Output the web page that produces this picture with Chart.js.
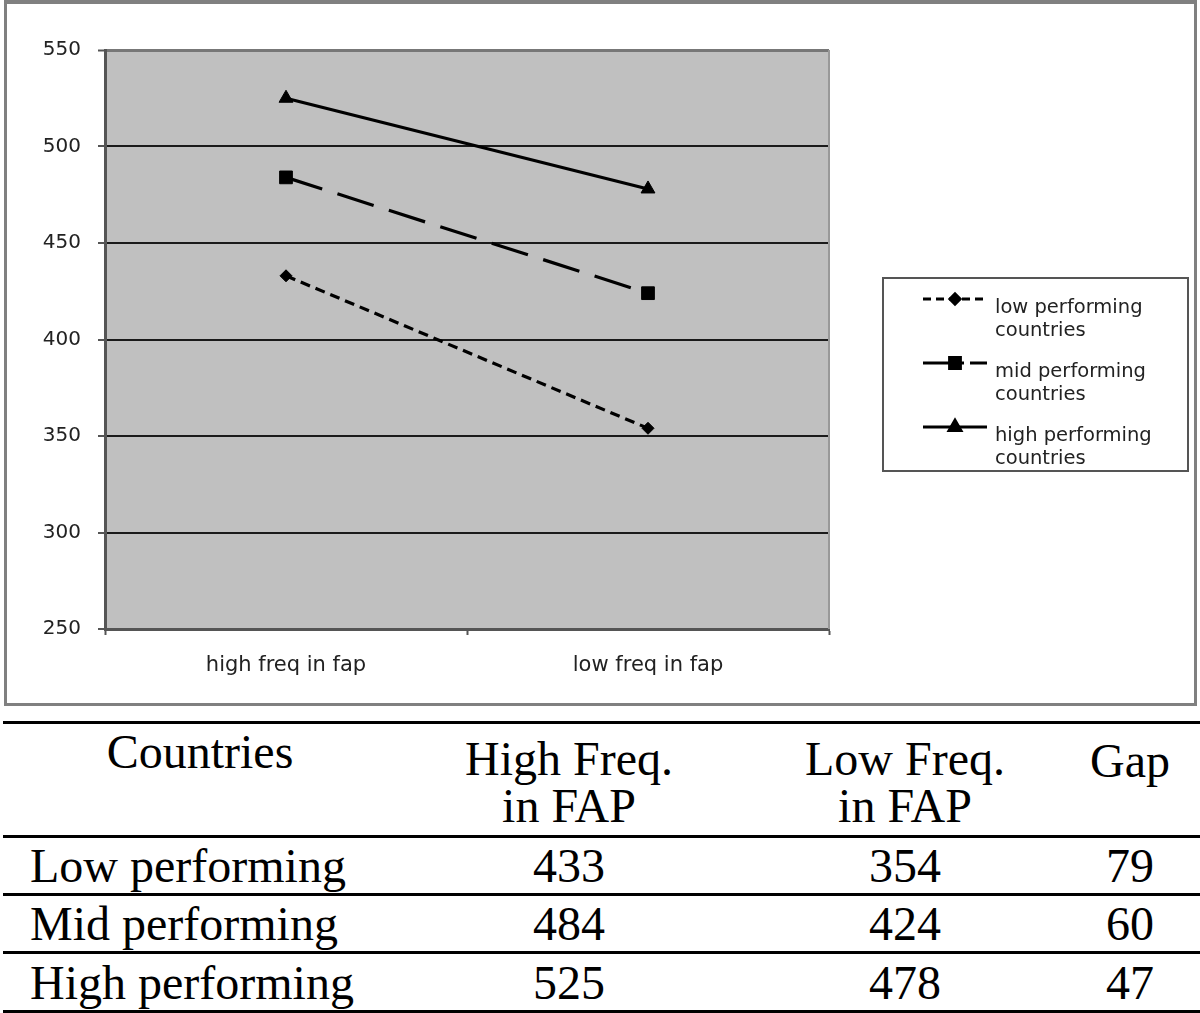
<!DOCTYPE html>
<html>
<head>
<meta charset="utf-8">
<script src="https://cdn.jsdelivr.net/npm/chart.js@4.4.0/dist/chart.umd.min.js"></script>
<style>
  html, body { margin: 0; padding: 0; background: #fff; }
  body { width: 1200px; height: 1013px; position: relative; overflow: hidden; }
  #c { position: absolute; left: 0; top: 0; }
  #frame { position: absolute; left: 4px; top: 0; width: 1193px; height: 706px; box-sizing: border-box;
           border: 3px solid #808080; border-top-width: 4px; pointer-events: none; }
  .t { position: absolute; font-family: "Liberation Serif", "Times New Roman", serif; font-size: 48px;
       line-height: 47px; color: #000; white-space: pre; }
  .rule { position: absolute; left: 3px; width: 1197px; height: 3px; background: #000; }
</style>
</head>
<body>
<canvas id="c" width="1200" height="708"></canvas>
<div id="frame"></div>
<div id="tbl"></div>
<script>
// chart data
const categories = ['high freq in fap', 'low freq in fap'];
const seriesNames = ['low performing countries', 'mid performing countries', 'high performing countries'];
const lowPerforming = [433, 354];
const midPerforming = [484, 424];
const highPerforming = [525, 478];
const yTicks = [250, 300, 350, 400, 450, 500, 550];

// table data
const tableHeader = ['Countries', 'High Freq.\nin FAP', 'Low Freq.\nin FAP', 'Gap'];
const rowLabels = ['Low performing', 'Mid performing', 'High performing'];
const highFreqCol = [433, 484, 525];
const lowFreqCol = [354, 424, 478];
const gapCol = [79, 60, 47];

const sans = '"DejaVu Sans", Arial, sans-serif';
const legendDashes = [[8, 5], [41, 6], []];

// grey plot area + right edge
const plotBg = {
  id: 'plotBg',
  beforeDraw(chart) {
    const { ctx, chartArea: a } = chart;
    ctx.save();
    ctx.fillStyle = '#c0c0c0';
    ctx.fillRect(a.left, a.top, a.right - a.left, a.bottom - a.top);
    ctx.restore();
  },
  beforeDatasetsDraw(chart) {
    const { ctx, chartArea: a } = chart;
    ctx.save();
    ctx.strokeStyle = '#999';
    ctx.lineWidth = 2;
    ctx.beginPath();
    ctx.moveTo(a.right, a.top);
    ctx.lineTo(a.right, a.bottom);
    ctx.stroke();
    ctx.restore();
  }
};

// boxed legend on the right, two-line labels
const legendBox = {
  id: 'legendBox',
  afterDraw(chart) {
    const ctx = chart.ctx;
    ctx.save();
    ctx.strokeStyle = '#555';
    ctx.lineWidth = 2;
    ctx.strokeRect(883, 278, 305, 193);
    chart.data.datasets.forEach((ds, i) => {
      const y = 299 + i * 64;
      ctx.strokeStyle = '#000';
      ctx.fillStyle = '#000';
      ctx.lineWidth = 3;
      ctx.setLineDash(legendDashes[i]);
      ctx.beginPath();
      ctx.moveTo(923, y);
      ctx.lineTo(987, y);
      ctx.stroke();
      ctx.setLineDash([]);
      Chart.helpers.drawPoint(ctx, { pointStyle: ds.pointStyle, radius: ds.pointRadius * 0.85, rotation: 0, borderWidth: 1 }, 955, y);
      const cut = ds.label.lastIndexOf(' ');
      ctx.font = '19.5px ' + sans;
      ctx.fillStyle = '#222';
      ctx.textAlign = 'left';
      ctx.textBaseline = 'alphabetic';
      ctx.fillText(ds.label.slice(0, cut), 995, y + 14);
      ctx.fillText(ds.label.slice(cut + 1), 995, y + 37);
    });
    ctx.restore();
  }
};

new Chart(document.getElementById('c'), {
  type: 'line',
  data: {
    labels: categories,
    datasets: [
      { label: seriesNames[0], data: lowPerforming, borderDash: [10, 6], pointStyle: 'rectRot', pointRadius: 6 },
      { label: seriesNames[1], data: midPerforming, borderDash: [38, 16], pointStyle: 'rect', pointRadius: 9 },
      { label: seriesNames[2], data: highPerforming, borderDash: [], pointStyle: 'triangle', pointRadius: 8 }
    ].map(d => Object.assign({
      borderColor: '#000', backgroundColor: '#000', pointBackgroundColor: '#000',
      pointBorderColor: '#000', pointBorderWidth: 1, borderWidth: 3.2, tension: 0, fill: false
    }, d))
  },
  options: {
    responsive: false,
    animation: false,
    layout: { padding: { top: 50, right: 371, bottom: 0, left: 0 } },
    plugins: { legend: { display: false }, tooltip: { enabled: false } },
    scales: {
      x: {
        offset: true,
        grid: { offset: true, drawOnChartArea: false, drawTicks: true, tickLength: 6, tickColor: '#555', tickWidth: 2 },
        border: { color: '#555', width: 3 },
        ticks: { color: '#222', font: { family: sans, size: 21 }, padding: 18, maxRotation: 0 },
        afterFit(s) { s.height = 79; }
      },
      y: {
        min: 250, max: 550,
        afterBuildTicks(s) { s.ticks = yTicks.map(v => ({ value: v })); },
        grid: {
          color: c => (c.tick && c.tick.value === 550) ? '#777' : '#1a1a1a',
          lineWidth: c => (c.tick && c.tick.value === 550) ? 3 : 2,
          tickLength: 7, tickColor: '#555', tickWidth: 2
        },
        border: { color: '#555', width: 3 },
        ticks: { color: '#222', font: { family: sans, size: 20 }, padding: 17 },
        afterFit(s) { s.width = 105; }
      }
    }
  },
  plugins: [plotBg, legendBox]
});

// table below the chart
const tbl = document.getElementById('tbl');
function addText(txt, x, top, align) {
  const d = document.createElement('div');
  d.className = 't';
  d.textContent = txt;
  d.style.top = top + 'px';
  if (align === 'left') {
    d.style.left = x + 'px';
  } else {
    d.style.left = (x - 300) + 'px';
    d.style.width = '600px';
    d.style.textAlign = 'center';
  }
  tbl.appendChild(d);
}
[721, 835, 893, 951, 1010].forEach(y => {
  const r = document.createElement('div');
  r.className = 'rule';
  r.style.top = y + 'px';
  tbl.appendChild(r);
});
const colCenters = [200, 569, 905, 1130];
addText(tableHeader[0], colCenters[0], 728, 'center');
addText(tableHeader[1], colCenters[1], 735, 'center');
addText(tableHeader[2], colCenters[2], 735, 'center');
addText(tableHeader[3], colCenters[3], 737, 'center');
const rowTops = [842, 900, 959];
rowLabels.forEach((lab, i) => {
  addText(lab, 30, rowTops[i], 'left');
  addText(String(highFreqCol[i]), colCenters[1], rowTops[i], 'center');
  addText(String(lowFreqCol[i]), colCenters[2], rowTops[i], 'center');
  addText(String(gapCol[i]), colCenters[3], rowTops[i], 'center');
});
</script>
</body>
</html>
